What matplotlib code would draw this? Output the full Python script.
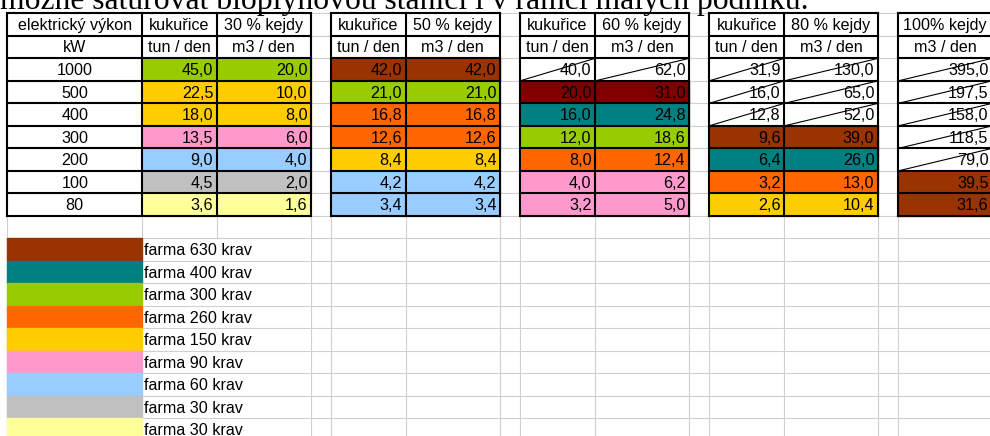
"""Tabulka: potřeba kukuřice a kejdy pro bioplynové stanice různého výkonu.

Nakreslí výřez listu (tabulky + barevná legenda farem) do out.png.
"""

import matplotlib

matplotlib.use("Agg")
import matplotlib.pyplot as plt
from matplotlib.patches import Rectangle

TITLE = "možné saturovat bioplynovou stanici i v rámci malých podniků."

# --- data -----------------------------------------------------------------
vykon_kw = ["1000", "500", "400", "300", "200", "100", "80"]

kukurice_30 = [45.0, 22.5, 18.0, 13.5, 9.0, 4.5, 3.6]
kejda_30 = [20.0, 10.0, 8.0, 6.0, 4.0, 2.0, 1.6]
kukurice_50 = [42.0, 21.0, 16.8, 12.6, 8.4, 4.2, 3.4]
kejda_50 = [42.0, 21.0, 16.8, 12.6, 8.4, 4.2, 3.4]
kukurice_60 = [40.0, 20.0, 16.0, 12.0, 8.0, 4.0, 3.2]
kejda_60 = [62.0, 31.0, 24.8, 18.6, 12.4, 6.2, 5.0]
kukurice_80 = [31.9, 16.0, 12.8, 9.6, 6.4, 3.2, 2.6]
kejda_80 = [130.0, 65.0, 52.0, 39.0, 26.0, 13.0, 10.4]
kejda_100 = [395.0, 197.5, 158.0, 118.5, 79.0, 39.5, 31.6]

# which farm can feed each row (None = no farm, cell is crossed out)
farma_30 = ["300", "150", "150", "90", "60", "30", "30b"]
farma_50 = ["630", "300", "260", "260", "150", "60", "60"]
farma_60 = [None, "jina", "400", "300", "260", "90", "90"]
farma_80 = [None, None, None, "630", "400", "260", "150"]
farma_100 = [None, None, None, None, None, "630", "630"]

legenda_farmy = ["630", "400", "300", "260", "150", "90", "60", "30", "30b"]
legenda_texty = ["farma 630 krav", "farma 400 krav", "farma 300 krav",
                 "farma 260 krav", "farma 150 krav", "farma 90 krav",
                 "farma 60 krav", "farma 30 krav", "farma 30 krav"]

# --- styles / layout ------------------------------------------------------
FARM_COLORS = {
    "630": "#993300", "400": "#008080", "300": "#99CC00", "260": "#FF6600",
    "150": "#FFCC00", "90": "#FF99CC", "60": "#99CCFF", "30": "#C0C0C0",
    "30b": "#FFFF99", "jina": "#800000",
}
GRID = "#D0D0D0"
FONT = "Liberation Sans"
FS = 11.6
BASE = 16.6  # baseline offset from the top of a row

# spreadsheet column edges (px) and row geometry
COL_EDGES = [7.3, 142.3, 216.7, 311.0, 330.7, 405.6, 500.0, 519.8, 595.0,
             689.0, 709.0, 784.2, 877.9, 898.2, 992.0]
ROW_TOP = 13.4
ROW_H = 22.5
N_ROWS = 20
LEGEND_ROW = 10


def row_y(r):
    return ROW_TOP + r * ROW_H


def fmt(v):
    return f"{v:.1f}".replace(".", ",")


# each table: list of columns (sheet column index, header, unit, values, farms)
TABLES = [
    [(0, "elektrický výkon", "kW", vykon_kw, None),
     (1, "kukuřice", "tun / den", kukurice_30, farma_30),
     (2, "30 % kejdy", "m3 / den", kejda_30, farma_30)],
    [(4, "kukuřice", "tun / den", kukurice_50, farma_50),
     (5, "50 % kejdy", "m3 / den", kejda_50, farma_50)],
    [(7, "kukuřice", "tun / den", kukurice_60, farma_60),
     (8, "60 % kejdy", "m3 / den", kejda_60, farma_60)],
    [(10, "kukuřice", "tun / den", kukurice_80, farma_80),
     (11, "80 % kejdy", "m3 / den", kejda_80, farma_80)],
    [(13, "100% kejdy", "m3 / den", kejda_100, farma_100)],
]

fig = plt.figure(figsize=(9.9, 4.36), dpi=100)
ax = fig.add_axes([0, 0, 1, 1])
ax.set_xlim(0, 990)
ax.set_ylim(436, 0)
ax.axis("off")

# sheet gridlines
for k in range(N_ROWS):
    ax.plot([COL_EDGES[0], COL_EDGES[-1]], [row_y(k)] * 2, color=GRID,
            lw=0.8, zorder=1)
for i, x in enumerate(COL_EDGES):
    y_end = row_y(LEGEND_ROW) if i in (1, 2) else 436
    ax.plot([x, x], [ROW_TOP, y_end], color=GRID, lw=0.8, zorder=1)

# title (overflowing text in the row above, partly cut off)
ax.text(0, 9.5, TITLE, family="Liberation Serif", fontsize=22.8,
        ha="left", va="baseline", zorder=4)

text_kw = dict(family=FONT, fontsize=FS, va="baseline", zorder=5)

for table in TABLES:
    for col, head, unit, values, farms in table:
        x0, x1 = COL_EDGES[col], COL_EDGES[col + 1]
        xc = (x0 + x1) / 2
        ax.text(xc, row_y(0) + BASE, head, ha="center", **text_kw)
        ax.text(xc, row_y(1) + BASE, unit, ha="center", **text_kw)
        for r, v in enumerate(values):
            top, bot = row_y(r + 2), row_y(r + 3)
            if isinstance(v, str):
                ax.text(xc, top + BASE, v, ha="center", **text_kw)
                continue
            farm = farms[r]
            if farm is None:
                ax.add_patch(Rectangle((x0, top), x1 - x0, ROW_H,
                                       color="white", zorder=2))
                ax.plot([x0, x1], [bot, top], color="black", lw=0.8, zorder=3)
            else:
                ax.add_patch(Rectangle((x0, top), x1 - x0, ROW_H,
                                       color=FARM_COLORS[farm], zorder=2))
            ax.text(x1 - 3.5, top + BASE, fmt(v), ha="right", **text_kw)

    # black cell borders
    c_first, c_last = table[0][0], table[-1][0] + 1
    n = len(table[0][3]) + 2
    for k in range(n + 1):
        ax.plot([COL_EDGES[c_first], COL_EDGES[c_last]], [row_y(k)] * 2,
                color="black", lw=1.5, zorder=3.5, solid_capstyle="projecting")
    for c in range(c_first, c_last + 1):
        ax.plot([COL_EDGES[c]] * 2, [row_y(0), row_y(n)], color="black",
                lw=1.5, zorder=3.5, solid_capstyle="projecting")

# colour legend of farm sizes
for i, (farm, label) in enumerate(zip(legenda_farmy, legenda_texty)):
    top = row_y(LEGEND_ROW + i)
    ax.add_patch(Rectangle((COL_EDGES[0], top), COL_EDGES[1] - COL_EDGES[0],
                           ROW_H, color=FARM_COLORS[farm], zorder=2))
    ax.text(COL_EDGES[1] + 2, top + BASE, label, ha="left", **text_kw)

fig.savefig("out.png", dpi=100)
